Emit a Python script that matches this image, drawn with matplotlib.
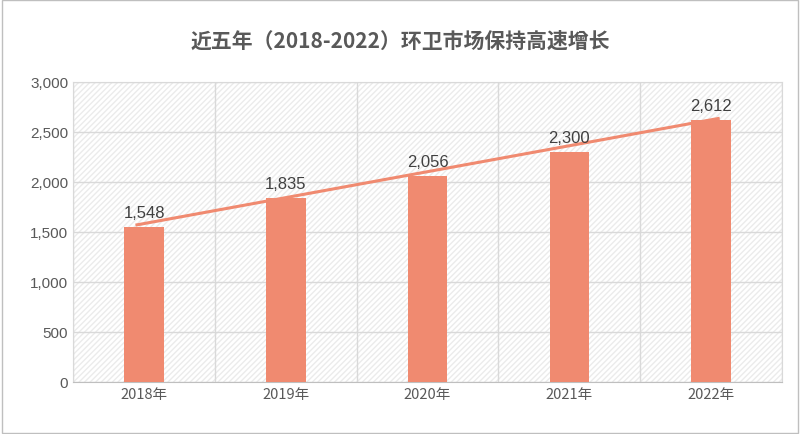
import matplotlib.pyplot as plt
import numpy as np
from matplotlib.patches import Rectangle

years = ["2018年", "2019年", "2020年", "2021年", "2022年"]
values = [1548, 1835, 2056, 2300, 2612]
yticks = [0, 500, 1000, 1500, 2000, 2500, 3000]

plt.rcParams["font.family"] = "sans-serif"
plt.rcParams["font.sans-serif"] = ["Noto Sans CJK SC", "Noto Sans CJK JP", "Noto Sans CJK TC",
                                   "Noto Sans CJK KR", "DejaVu Sans"]
color = "#F08A70"

fig = plt.figure(figsize=(8, 4.35), dpi=100)
fig.patches.append(Rectangle((0.002, 0.002), 0.996, 0.996, transform=fig.transFigure,
                             fill=False, edgecolor="#BFBFBF", linewidth=1))
ax = fig.add_axes([0.0915, 0.12, 0.886, 0.69])
x = np.arange(len(years))
ax.bar(x, values, width=0.28, color=color, zorder=3)
for xi, v in zip(x, values):
    ax.text(xi, v + 70, f"{v:,}", ha="center", va="bottom", fontsize=12, color="#404040",
            family="Liberation Sans", zorder=5)

# linear trendline
k, b = np.polyfit(x, values, 1)
tx = np.array([-0.05, 4.05])
ax.plot(tx, k * tx + b + 30, color=color, linewidth=2.2, zorder=4)

ax.set_xlim(-0.5, 4.5)
ax.set_ylim(0, 3000)
ax.set_yticks(yticks)
ax.set_yticklabels([f"{t:,}" for t in yticks], family="Liberation Sans", fontsize=11, color="#595959")
ax.set_xticks(x)
ax.set_xticklabels(years, fontsize=10.5, color="#595959")
ax.set_xticks(np.arange(-0.5, 5, 1), minor=True)
ax.tick_params(length=0, which="both")
ax.grid(axis="y", color="#D9D9D9", linewidth=1, zorder=1)
ax.grid(axis="x", which="minor", color="#D9D9D9", linewidth=1, zorder=1)
ax.add_patch(Rectangle((0, 0), 1, 1, transform=ax.transAxes, facecolor="white",
                       hatch="//////", edgecolor="#EBEBEB", linewidth=0, zorder=0))
for s in ax.spines.values():
    s.set_color("#D9D9D9")
ax.spines["bottom"].set_color("#BFBFBF")

fig.suptitle("近五年（2018-2022）环卫市场保持高速增长", y=0.93, fontsize=15,
             fontweight="bold", color="#595959")
fig.savefig("out.png")
